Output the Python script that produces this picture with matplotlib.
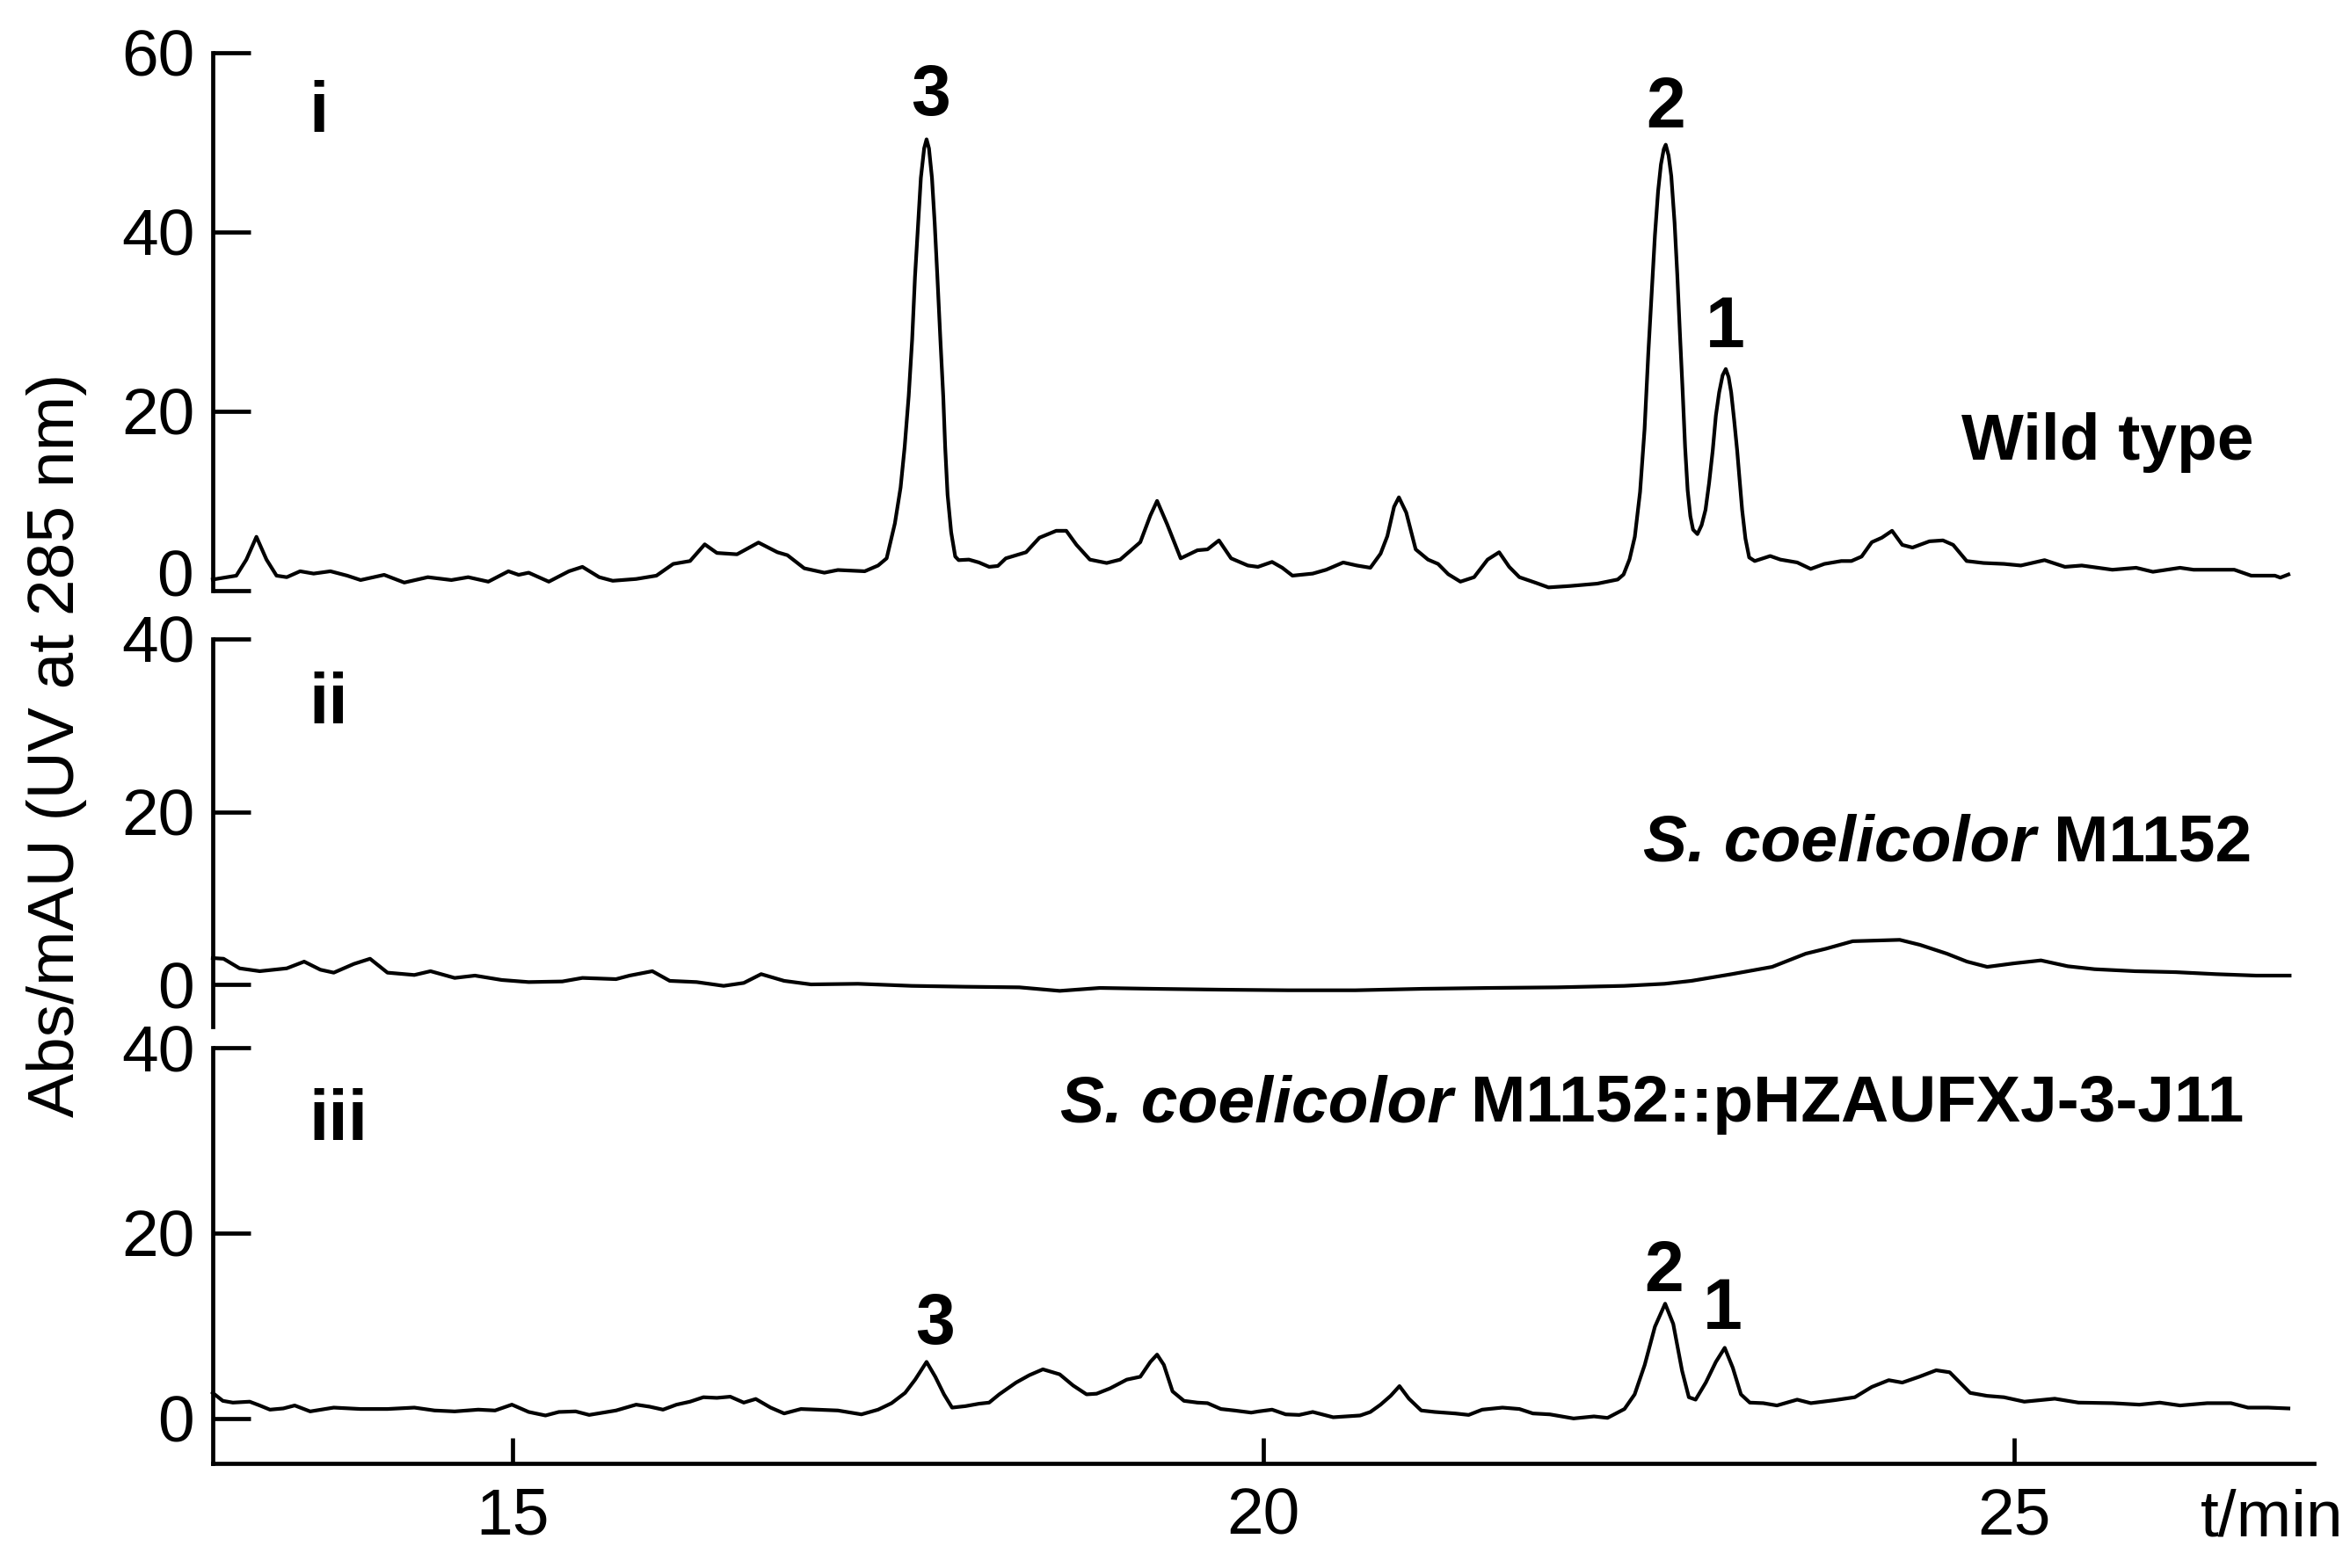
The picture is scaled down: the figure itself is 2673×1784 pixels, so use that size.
import matplotlib
matplotlib.use("Agg")
import matplotlib.pyplot as plt

plt.rcParams["font.family"] = ["Liberation Sans", "DejaVu Sans"]
plt.rcParams["font.size"] = 27

# retention time (min) and absorbance (mAU)
t_wt = [13.000, 13.157, 13.224, 13.291, 13.358, 13.425, 13.493, 13.582, 13.672, 13.784,
        13.896, 13.985, 14.142, 14.276, 14.433, 14.590, 14.702, 14.836, 14.970, 15.038,
        15.105, 15.239, 15.373, 15.463, 15.575, 15.665, 15.821, 15.956, 16.068, 16.180,
        16.278, 16.359, 16.493, 16.636, 16.762, 16.829, 16.941, 17.075, 17.165, 17.344,
        17.433, 17.490, 17.545, 17.583, 17.610, 17.637, 17.660, 17.679, 17.700, 17.718,
        17.740, 17.756, 17.772, 17.792, 17.810, 17.828, 17.848, 17.867, 17.880, 17.896,
        17.920, 17.947, 17.970, 18.038, 18.105, 18.173, 18.231, 18.284, 18.419, 18.508,
        18.620, 18.687, 18.755, 18.844, 18.956, 19.046, 19.180, 19.247, 19.292, 19.359,
        19.449, 19.561, 19.628, 19.704, 19.785, 19.897, 19.964, 20.058, 20.126, 20.194,
        20.329, 20.419, 20.532, 20.623, 20.713, 20.781, 20.826, 20.871, 20.903, 20.952,
        21.015, 21.097, 21.164, 21.232, 21.313, 21.404, 21.494, 21.571, 21.638, 21.706,
        21.819, 21.900, 22.045, 22.225, 22.361, 22.400, 22.440, 22.475, 22.510, 22.540,
        22.565, 22.590, 22.609, 22.630, 22.649, 22.668, 22.681, 22.700, 22.718, 22.740,
        22.758, 22.776, 22.794, 22.810, 22.827, 22.845, 22.863, 22.892, 22.920, 22.946,
        22.970, 22.994, 23.015, 23.037, 23.060, 23.081, 23.100, 23.117, 23.137, 23.157,
        23.175, 23.190, 23.212, 23.237, 23.274, 23.377, 23.445, 23.557, 23.647, 23.738,
        23.851, 23.918, 23.986, 24.054, 24.121, 24.189, 24.257, 24.325, 24.438, 24.528,
        24.596, 24.686, 24.799, 24.934, 25.047, 25.205, 25.341, 25.453, 25.657, 25.815,
        25.927, 26.108, 26.198, 26.469, 26.582, 26.740, 26.776, 26.830]
a_wt = [1.24, 1.67, 3.46, 6.0, 3.46, 1.67, 1.5, 2.16, 1.9, 2.16,
        1.67, 1.18, 1.76, 0.9, 1.5, 1.18, 1.5, 1.0, 2.16, 1.76,
        2.0, 1.0, 2.16, 2.65, 1.5, 1.1, 1.3, 1.67, 2.98, 3.3,
        5.16, 4.2, 4.05, 5.36, 4.28, 3.95, 2.49, 2.0, 2.3, 2.16,
        2.8, 3.6, 7.5, 11.5, 16.0, 21.7, 28.0, 35.0, 41.0, 46.0,
        49.3, 50.3, 49.3, 46.0, 41.0, 35.0, 28.0, 21.7, 16.0, 10.7,
        6.5, 3.8, 3.4, 3.46, 3.14, 2.65, 2.75, 3.6, 4.28, 5.9,
        6.67, 6.67, 5.1, 3.46, 3.08, 3.46, 5.4, 8.37, 10.0, 7.4,
        3.6, 4.5, 4.6, 5.6, 3.6, 2.8, 2.65, 3.2, 2.55, 1.67,
        1.9, 2.33, 3.14, 2.8, 2.55, 4.12, 6.07, 9.35, 10.4, 8.7,
        4.6, 3.46, 2.98, 1.83, 1.0, 1.5, 3.46, 4.28, 2.65, 1.5,
        0.85, 0.36, 0.52, 0.78, 1.24, 1.8, 3.5, 6.0, 11.0, 18.0,
        26.5, 34.0, 39.6, 44.5, 47.5, 49.2, 49.7, 48.5, 46.2, 41.0,
        35.2, 28.5, 22.1, 16.0, 11.2, 8.3, 6.8, 6.3, 7.3, 9.0,
        12.0, 15.6, 19.5, 22.1, 24.0, 24.7, 23.8, 22.1, 19.0, 15.6,
        12.0, 9.0, 5.8, 3.7, 3.3, 3.86, 3.46, 3.14, 2.42, 2.98,
        3.3, 3.3, 3.8, 5.4, 5.9, 6.67, 5.1, 4.8, 5.5, 5.6,
        5.1, 3.3, 3.08, 2.98, 2.8, 3.4, 2.65, 2.8, 2.33, 2.55,
        2.1, 2.55, 2.33, 2.33, 1.67, 1.67, 1.45, 1.8]

t_m1152 = [13.000, 13.072, 13.179, 13.313, 13.493, 13.609, 13.717, 13.806, 13.940, 14.048,
           14.164, 14.343, 14.451, 14.612, 14.747, 14.926, 15.105, 15.329, 15.463, 15.687,
           15.777, 15.929, 16.045, 16.224, 16.404, 16.538, 16.654, 16.807, 16.986, 17.299,
           17.657, 18.016, 18.374, 18.643, 18.911, 19.270, 19.717, 20.165, 20.613, 21.061,
           21.509, 21.957, 22.404, 22.673, 22.852, 23.121, 23.390, 23.614, 23.748, 23.927,
           24.106, 24.240, 24.375, 24.554, 24.688, 24.823, 25.002, 25.181, 25.360, 25.539,
           25.808, 26.077, 26.345, 26.614, 26.838]
a_m1152 = [3.05, 2.97, 1.86, 1.53, 1.86, 2.64, 1.7, 1.36, 2.37, 2.97,
           1.36, 1.09, 1.53, 0.75, 1.02, 0.51, 0.27, 0.34, 0.75, 0.61,
           1.02, 1.53, 0.41, 0.27, -0.17, 0.17, 1.19, 0.41, 0.0, 0.07,
           -0.17, -0.27, -0.34, -0.75, -0.41, -0.51, -0.61, -0.68, -0.68, -0.51,
           -0.41, -0.34, -0.17, 0.07, 0.41, 1.19, 2.03, 3.56, 4.13, 5.0,
           5.09, 5.16, 4.58, 3.56, 2.64, 2.03, 2.44, 2.78, 2.1, 1.76,
           1.53, 1.42, 1.19, 1.02, 1.02]

t_j11 = [13.000, 13.067, 13.134, 13.246, 13.313, 13.381, 13.470, 13.546, 13.649, 13.806,
         13.985, 14.164, 14.343, 14.478, 14.612, 14.769, 14.881, 14.993, 15.105, 15.217,
         15.306, 15.418, 15.508, 15.687, 15.821, 15.911, 16.000, 16.090, 16.180, 16.269,
         16.359, 16.448, 16.538, 16.618, 16.717, 16.807, 16.919, 17.030, 17.165, 17.322,
         17.433, 17.523, 17.613, 17.680, 17.756, 17.814, 17.872, 17.926, 18.016, 18.105,
         18.173, 18.240, 18.352, 18.441, 18.531, 18.643, 18.732, 18.822, 18.889, 18.978,
         19.090, 19.180, 19.247, 19.292, 19.337, 19.395, 19.471, 19.561, 19.628, 19.717,
         19.807, 19.919, 19.968, 20.058, 20.149, 20.239, 20.329, 20.465, 20.645, 20.713,
         20.781, 20.848, 20.907, 20.970, 21.052, 21.142, 21.277, 21.368, 21.458, 21.593,
         21.706, 21.796, 21.909, 22.067, 22.203, 22.293, 22.406, 22.474, 22.541, 22.609,
         22.677, 22.731, 22.790, 22.835, 22.880, 22.948, 23.015, 23.074, 23.128, 23.182,
         23.241, 23.331, 23.422, 23.557, 23.648, 23.806, 23.941, 24.054, 24.167, 24.257,
         24.370, 24.483, 24.573, 24.641, 24.709, 24.821, 24.934, 25.070, 25.273, 25.431,
         25.657, 25.837, 25.973, 26.108, 26.289, 26.447, 26.560, 26.695, 26.830]
a_j11 = [2.76, 1.9, 1.71, 1.81, 1.4, 0.95, 1.08, 1.4, 0.76, 1.17,
         1.02, 1.02, 1.17, 0.86, 0.76, 0.95, 0.86, 1.49, 0.7, 0.32,
         0.7, 0.76, 0.38, 0.86, 1.49, 1.27, 0.95, 1.49, 1.81, 2.29,
         2.22, 2.35, 1.71, 2.1, 1.17, 0.54, 1.02, 0.95, 0.86, 0.44,
         0.95, 1.65, 2.76, 4.19, 6.1, 4.5, 2.6, 1.17, 1.33, 1.59,
         1.71, 2.6, 3.87, 4.67, 5.3, 4.76, 3.56, 2.6, 2.67, 3.24,
         4.19, 4.5, 6.1, 6.89, 5.78, 2.92, 1.9, 1.71, 1.65, 1.02,
         0.86, 0.63, 0.76, 0.95, 0.44, 0.38, 0.7, 0.13, 0.32, 0.7,
         1.49, 2.44, 3.49, 2.13, 0.86, 0.7, 0.54, 0.38, 0.95, 1.17,
         1.02, 0.54, 0.44, 0.0, 0.22, 0.06, 1.02, 2.6, 5.78, 9.9,
         12.38, 10.2, 5.14, 2.29, 2.03, 3.87, 6.1, 7.62, 5.46, 2.6,
         1.71, 1.65, 1.4, 2.03, 1.65, 1.97, 2.29, 3.4, 4.13, 3.87,
         4.5, 5.2, 4.98, 3.87, 2.76, 2.44, 2.29, 1.81, 2.13, 1.71,
         1.65, 1.49, 1.71, 1.4, 1.65, 1.65, 1.17, 1.17, 1.08]

# peak labels: (text, time, height)
peaks_wt = [("3", 17.785, 53.0), ("2", 22.683, 51.6), ("1", 23.075, 27.1)]
peaks_j11 = [("3", 17.81, 8.0), ("2", 22.67, 13.7), ("1", 23.06, 9.7)]

W, H = 2673, 1784
DPI = 200
LW = 1.7


def frac_rect(top_px, bottom_px):
    left = 242 / W
    width = (2632 - 242) / W
    return [left, 1 - bottom_px / H, width, (bottom_px - top_px) / H]


def style_axis(ax, ylim, yticks, bottom=False):
    ax.set_xlim(13, 27)
    ax.set_ylim(*ylim)
    ax.set_yticks(yticks)
    for side in ["top", "right"]:
        ax.spines[side].set_visible(False)
    ax.spines["left"].set_linewidth(LW)
    ax.spines["left"].set_bounds(ylim[0], yticks[-1])
    ax.tick_params(axis="y", direction="in", length=15.5, width=LW, pad=7.5,
                   labelsize=27)
    if bottom:
        ax.spines["bottom"].set_linewidth(LW)
        ax.set_xticks([15, 20, 25])
        ax.tick_params(axis="x", direction="in", length=10.5, width=LW, pad=9.5,
                       labelsize=27)
    else:
        ax.spines["bottom"].set_visible(False)
        ax.set_xticks([])
    ax.patch.set_visible(False)


fig = plt.figure(figsize=(W / DPI, H / DPI), dpi=DPI)

ax1 = fig.add_axes(frac_rect(59.5, 672))
ax2 = fig.add_axes(frac_rect(727, 1168))
ax3 = fig.add_axes(frac_rect(1192, 1665))

line_kw = dict(color="black", lw=1.5, solid_joinstyle="round", clip_on=False)
ax1.plot(t_wt, a_wt, **line_kw)
ax2.plot(t_m1152, a_m1152, **line_kw)
ax3.plot(t_j11, a_j11, **line_kw)

style_axis(ax1, (0, 60), [0, 20, 40, 60])
style_axis(ax2, (-4.885, 40), [0, 20, 40])
style_axis(ax3, (-4.85, 40), [0, 20, 40], bottom=True)

# the "0" of the top panel sits a little above its tick in the original
ax1.set_yticklabels(["", "20", "40", "60"])
ax1.text(-0.0093, 1.96, "0", transform=ax1.get_yaxis_transform(),
         ha="right", va="center_baseline", fontsize=27)

bold = dict(fontweight="bold", fontsize=29, va="baseline")
ax1.text(13.64, 51.1, "i", ha="left", **bold)
ax2.text(13.64, 30.2, "ii", ha="left", **bold)
ax3.text(13.64, 30.0, "iii", ha="left", **bold)

for label, t, y in peaks_wt:
    ax1.text(t, y, label, ha="center", **bold)
for label, t, y in peaks_j11:
    ax3.text(t, y, label, ha="center", **bold)

ax1.text(26.597, 14.6, "Wild type", ha="right", va="baseline",
         fontweight="bold", fontsize=27)

m2 = ax2.text(26.586, 14.25, "M1152", ha="right", va="baseline",
              fontweight="bold", fontsize=27)
ax2.annotate("S. coelicolor", xy=(0, 0), xycoords=m2, xytext=(-7.5, 0),
             textcoords="offset points", ha="right", va="bottom",
             fontweight="bold", fontstyle="italic", fontsize=27)

m3 = ax3.text(26.533, 32.0, "M1152::pHZAUFXJ-3-J11", ha="right", va="baseline",
              fontweight="bold", fontsize=27)
ax3.annotate("S. coelicolor", xy=(0, 0), xycoords=m3, xytext=(-7.5, 0),
             textcoords="offset points", ha="right", va="bottom",
             fontweight="bold", fontstyle="italic", fontsize=27)

fig.text(2503 / W, 1 - 1747 / H, "t/min", ha="left", va="baseline", fontsize=27)
fig.text(65 / W, 1 - 848 / H, "Abs/mAU (UV at 285 nm)", rotation=90,
         ha="center", va="center", fontsize=27)

fig.savefig("out.png", dpi=DPI)
